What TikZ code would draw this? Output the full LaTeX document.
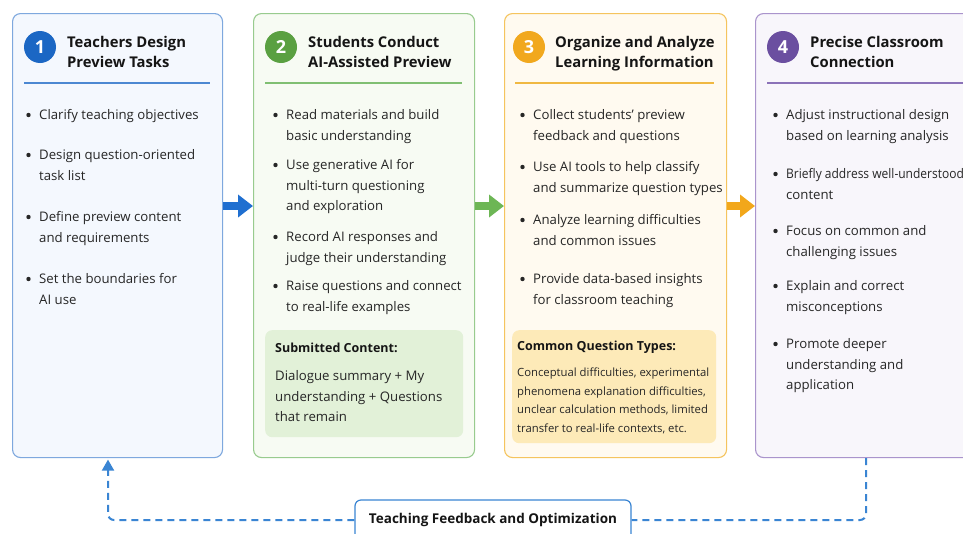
\documentclass[tikz,border=0pt]{standalone}
\usepackage{fontspec}
\setmainfont{Open Sans}
\usetikzlibrary{arrows.meta,calc}
\definecolor{txtc}{HTML}{262626}
\definecolor{ttlc}{HTML}{151515}
\definecolor{bB}{HTML}{7EA8DE}\definecolor{fB}{HTML}{F4F8FE}\definecolor{cB}{HTML}{1B67C4}\definecolor{rB}{HTML}{4C88D2}\definecolor{aB}{HTML}{1F6FD0}
\definecolor{bG}{HTML}{98CB8E}\definecolor{fG}{HTML}{F7FBF3}\definecolor{cG}{HTML}{5AA041}\definecolor{rG}{HTML}{80BF72}\definecolor{aG}{HTML}{6DB655}\definecolor{iG}{HTML}{E2F1D8}
\definecolor{bO}{HTML}{F5C45E}\definecolor{fO}{HTML}{FFFAF0}\definecolor{cO}{HTML}{F1A81E}\definecolor{rO}{HTML}{F0B842}\definecolor{aO}{HTML}{F2A71B}\definecolor{iO}{HTML}{FDEAB8}
\definecolor{bP}{HTML}{AA94CC}\definecolor{fP}{HTML}{F8F6FB}\definecolor{cP}{HTML}{6B4FA0}\definecolor{rP}{HTML}{8B72B8}
\definecolor{fbc}{HTML}{3A85D3}
\newcommand\mybul[4]{%
  \fill[txtc] (#2-10.5,#3) circle (2.2pt);
  \node[body] (#1) at (#2,#3-6.5) {\rule{0pt}{11pt}#4};}
\begin{document}
\begin{tikzpicture}[x=1pt,y=-1pt,
  card/.style={rounded corners=8pt, line width=1.1pt, inner sep=0pt, anchor=north west, minimum height=444pt},
  inbox/.style={rounded corners=7pt, inner sep=0pt, anchor=north west},
  num/.style={circle, minimum size=32pt, inner sep=0pt, text=white, font=\fontsize{18}{18}\selectfont\bfseries},
  ttl/.style={anchor=north west, inner sep=0pt, align=left, text=ttlc, font=\fontsize{14.8}{20.5}\selectfont\bfseries},
  body/.style={anchor=north west, inner sep=0pt, align=left, text=txtc, font=\fontsize{13.2}{20.5}\selectfont},
  ihead/.style={anchor=north west, inner sep=0pt, align=left, text=ttlc, font=\fontsize{12.5}{20}\selectfont\bfseries},
  rulel/.style={line width=1.3pt},
  flow/.style={line width=8pt, -{Triangle[width=22pt,length=15pt]}},
  fbline/.style={line width=2pt, fbc, dash pattern=on 7pt off 5pt, rounded corners=6pt},
  fbbox/.style={draw=fbc, line width=1.2pt, fill=white, rounded corners=6pt, minimum width=276pt, minimum height=40pt, inner sep=0pt, text=ttlc, font=\fontsize{13.5}{16}\selectfont\bfseries}]
\clip (0,0) rectangle (963,533);
\fill[white] (0,0) rectangle (963,533);
% cards
\node[card, draw=bB, fill=fB, minimum width=210pt] (box1) at (12,13) {};
\node[card, draw=bG, fill=fG, minimum width=221pt] (box2) at (253,13) {};
\node[card, draw=bO, fill=fO, minimum width=222pt] (box3) at (504,13) {};
\node[card, draw=bP, fill=fP, minimum width=240pt] (box4) at (755,13) {};
% headers
\node[num, fill=cB] (n1) at (40,47) {1};
\node[num, fill=cG] (n2) at (281,47) {2};
\node[num, fill=cO] (n3) at (529,47) {3};
\node[num, fill=cP] (n4) at (783,47) {4};
\node[ttl] (t1) at (67,35) {\rule{0pt}{12pt}Teachers Design\\Preview Tasks};
\node[ttl] (t2) at (308,35) {\rule{0pt}{12pt}Students Conduct\\AI-Assisted Preview};
\node[ttl] (t3) at (555,35) {\rule{0pt}{12pt}Organize and Analyze\\Learning Information};
\node[ttl] (t4) at (810,35) {\rule{0pt}{12pt}Precise Classroom\\Connection};
\draw[rulel, rB] (24,83) -- (210,83);
\draw[rulel, rG] (265,83) -- (462,83);
\draw[rulel, rO] (515,83) -- (714,83);
\draw[rulel, rP] (767,83) -- (963,83);
% box 1
\mybul{a1}{39}{115}{Clarify teaching objectives}
\mybul{a2}{39}{155}{Design question-oriented\\task list}
\mybul{a3}{39}{217}{Define preview content\\and requirements}
\mybul{a4}{39}{279}{Set the boundaries for\\AI use}
% box 2
\mybul{b1}{286}{115}{Read materials and build\\basic understanding}
\mybul{b2}{286}{165}{Use generative AI for\\multi-turn questioning\\and exploration}
\mybul{b3}{286}{237}{Record AI responses and\\judge their understanding}
\mybul{b4}{286}{286}{Raise questions and connect\\to real-life examples}
\node[inbox, fill=iG, minimum width=198pt, minimum height=107pt] (sub) at (265,330) {};
\node[ihead] (subh) at (275,341) {\rule{0pt}{11pt}Submitted Content:};
\node[body] (subt) at (275,369.5) {\rule{0pt}{11pt}Dialogue summary + My\\understanding + Questions\\that remain};
% box 3
\mybul{c1}{533}{115}{Collect students’ preview\\feedback and questions}
\mybul{c2}{533}{167}{Use AI tools to help classify\\and summarize question types}
\mybul{c3}{533}{220}{Analyze learning difficulties\\and common issues}
\mybul{c4}{533}{279}{Provide data-based insights\\for classroom teaching}
\node[inbox, fill=iO, minimum width=204pt, minimum height=113pt] (cq) at (512,330) {};
\node[ihead] (cqh) at (517,339) {\rule{0pt}{11pt}Common Question Types:};
\node[body, font=\fontsize{11.3}{18.8}\selectfont] (cqt) at (517,366) {\rule{0pt}{10pt}Conceptual difficulties, experimental\\phenomena explanation difficulties,\\unclear calculation methods, limited\\transfer to real-life contexts, etc.};
% box 4
\mybul{d1}{786}{115}{Adjust instructional design\\based on learning analysis}
\mybul{d2}{786}{174}{\addfontfeatures{FakeStretch=0.91}Briefly address well-understood\\content}
\mybul{d3}{786}{231}{Focus on common and\\challenging issues}
\mybul{d4}{786}{286}{Explain and correct\\misconceptions}
\mybul{d5}{786}{344}{Promote deeper\\understanding and\\application}
% flow arrows
\coordinate (ay) at (0,206);
\draw[flow, aB] (box1.east |- ay) -- (box2.west |- ay);
\draw[flow, aG] (box2.east |- ay) -- (box3.west |- ay);
\draw[flow, aO] (box3.east |- ay) -- (box4.west |- ay);
% feedback loop
\coordinate (fx4) at (866,0);
\coordinate (fx1) at (108,0);
\node[fbbox] (fb) at (493,520) {Teaching Feedback and Optimization};
\draw[fbline] (fx4 |- box4.south) |- (fb.east);
\draw[fbline, shorten >=1.5pt, -{Triangle[width=12pt,length=11pt]}] (fb.west) -| (fx1 |- box1.south);
\end{tikzpicture}
\end{document}
